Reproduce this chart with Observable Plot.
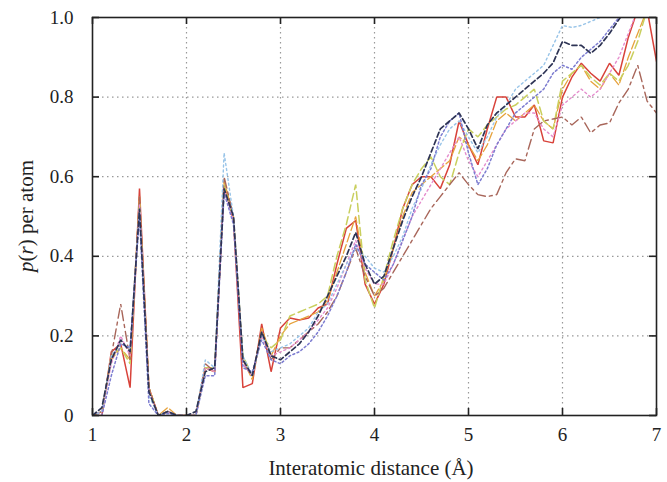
<!DOCTYPE html>
<html><head><meta charset="utf-8">
<script src="https://cdn.jsdelivr.net/npm/d3@7"></script>
<script src="https://cdn.jsdelivr.net/npm/@observablehq/plot@0.6"></script>
<style>body{margin:0;background:#fff;font-family:"Liberation Serif",serif}
#wrap{position:relative;width:667px;height:482px}
#chart{position:absolute;left:0;top:0}
.lab{position:absolute;font-family:"Liberation Serif",serif;font-size:21px;line-height:22px;color:#222;text-align:center;white-space:nowrap}
#xlab{left:89px;width:564px;top:457px}
#ylab{left:-74px;width:200px;top:205px;transform:rotate(-90deg)}
</style>
</head><body><div id="wrap"><div id="chart"></div>
<div id="xlab" class="lab">Interatomic distance (Å)</div>
<div id="ylab" class="lab"><i>p</i>(<i>r</i>) per atom</div></div>
<script>
const distance = [1.0,1.1,1.2,1.3,1.4,1.5,1.6,1.7,1.8,1.9,2.0,2.1,2.2,2.3,2.4,2.5,2.6,2.7,2.8,2.9,3.0,
  3.1,3.2,3.3,3.4,3.5,3.6,3.7,3.8,3.9,4.0,4.1,4.2,4.3,4.4,4.5,4.6,4.7,4.8,4.9,5.0,
  5.1,5.2,5.3,5.4,5.5,5.6,5.7,5.8,5.9,6.0,6.1,6.2,6.3,6.4,6.5,6.6,6.7,6.8,6.9,7.0];

const seriesRed = [0,0,0.16,0.18,0.07,0.57,0.07,0,0.01,0,0,0,0.12,0.11,0.58,0.49,0.07,0.08,0.23,0.11,0.22,
  0.245,0.24,0.245,0.27,0.28,0.38,0.47,0.49,0.33,0.28,0.33,0.42,0.52,0.58,0.60,0.60,0.57,0.63,0.74,0.68,
  0.63,0.72,0.80,0.80,0.75,0.75,0.78,0.69,0.685,0.80,0.85,0.885,0.86,0.84,0.885,0.855,0.95,1.02,1.02,0.89];
const seriesOrange = [0,0.01,0.14,0.17,0.14,0.55,0.07,0,0.02,0,0,0,0.12,0.11,0.59,0.50,0.14,0.09,0.22,0.15,0.20,
  0.23,0.24,0.25,0.26,0.29,0.36,0.43,0.50,0.36,0.30,0.34,0.42,0.50,0.56,0.58,0.60,0.62,0.64,0.70,0.68,
  0.64,0.68,0.74,0.76,0.74,0.76,0.78,0.74,0.72,0.82,0.86,0.88,0.84,0.82,0.86,0.83,0.90,0.96,1.02,1.02];
const seriesYellow = [0,0.01,0.15,0.17,0.13,0.54,0.07,0,0.01,0,0,0,0.12,0.12,0.58,0.49,0.15,0.10,0.20,0.17,0.19,
  0.25,0.26,0.27,0.28,0.30,0.40,0.48,0.58,0.34,0.27,0.35,0.44,0.52,0.58,0.62,0.65,0.60,0.58,0.66,0.72,
  0.70,0.73,0.75,0.77,0.78,0.80,0.82,0.74,0.72,0.84,0.86,0.88,0.85,0.83,0.86,0.84,0.88,0.94,1.02,1.02];
const seriesBrown = [0,0.01,0.15,0.28,0.14,0.55,0.07,0,0.01,0,0,0,0.13,0.11,0.60,0.50,0.13,0.10,0.21,0.14,0.17,
  0.17,0.19,0.21,0.23,0.26,0.30,0.36,0.42,0.35,0.30,0.32,0.36,0.40,0.44,0.48,0.52,0.55,0.58,0.61,0.58,
  0.555,0.55,0.555,0.61,0.645,0.64,0.72,0.74,0.745,0.75,0.73,0.75,0.71,0.73,0.735,0.785,0.82,0.88,0.79,0.76];
const seriesPink = [0,0.01,0.13,0.20,0.15,0.53,0.06,0,0.01,0,0,0,0.12,0.11,0.57,0.49,0.13,0.10,0.20,0.15,0.16,
  0.17,0.19,0.21,0.24,0.27,0.32,0.38,0.44,0.37,0.33,0.33,0.38,0.44,0.50,0.54,0.58,0.62,0.66,0.70,0.64,
  0.60,0.64,0.68,0.72,0.74,0.76,0.76,0.72,0.70,0.78,0.80,0.82,0.80,0.82,0.86,0.90,0.96,1.02,1.02,1.02];
const seriesLightBlue = [0,0.01,0.15,0.18,0.17,0.52,0.05,0,0.01,0,0,0,0.14,0.12,0.66,0.50,0.15,0.10,0.20,0.16,0.17,
  0.18,0.20,0.22,0.26,0.28,0.33,0.38,0.42,0.40,0.37,0.36,0.40,0.45,0.52,0.57,0.63,0.68,0.72,0.74,0.70,
  0.66,0.70,0.75,0.78,0.82,0.84,0.86,0.88,0.93,0.98,0.975,0.98,0.99,1.0,1.02,1.04,1.05,1.05,1.05,1.05];
const seriesPurple = [0,0,0.10,0.18,0.17,0.50,0.03,0,0.005,0,0,0,0.10,0.10,0.56,0.48,0.12,0.11,0.19,0.14,0.13,
  0.15,0.16,0.18,0.21,0.25,0.30,0.36,0.43,0.38,0.36,0.34,0.38,0.44,0.50,0.58,0.62,0.70,0.74,0.76,0.66,
  0.58,0.62,0.68,0.72,0.76,0.78,0.80,0.82,0.86,0.88,0.87,0.90,0.92,0.94,0.97,1.0,1.03,1.05,1.05,1.05];
const seriesNavy = [0,0.02,0.14,0.19,0.16,0.52,0.06,0,0.01,0,0,0.01,0.11,0.12,0.57,0.50,0.14,0.10,0.21,0.15,0.14,
  0.16,0.18,0.21,0.25,0.30,0.35,0.40,0.46,0.38,0.33,0.35,0.42,0.49,0.55,0.60,0.66,0.72,0.74,0.76,0.72,
  0.67,0.73,0.76,0.78,0.80,0.82,0.84,0.86,0.886,0.94,0.93,0.93,0.91,0.93,0.96,0.995,1.03,1.05,1.05,1.05];

const seriesNames = ["red","orange","yellow","brown","pink","lightblue","purple","navy"];
const seriesValues = [seriesRed,seriesOrange,seriesYellow,seriesBrown,seriesPink,seriesLightBlue,seriesPurple,seriesNavy];
const seriesColors = ["#d8423a","#e6a23c","#c9cf5e","#a8665a","#e58ccd","#98c4e8","#7c7cd0","#2e3455"];
const seriesDash = [null,"9,3","8,4","10,4,3,4","2,3","2,3","2,2.5","5,3"];
const seriesWidth = [1.5,1.3,1.5,1.4,1.4,1.4,1.5,1.7];

const xTicks = [1,2,3,4,5,6,7];
const yTicks = [0,0.2,0.4,0.6,0.8,1.0];
const yTickLabels = ["0","0.2","0.4","0.6","0.8","1.0"];

const W = 667, H = 482, mL = 92, mR = 11, mT = 17, mB = 67;
const plotH = H - mT - mB, plotW = W - mL - mR;
const serif = "Liberation Serif";

const lineMarks = seriesNames.map((name, i) => {
  const rows = distance.map((d, j) => ({x: d, y: seriesValues[i][j]}));
  return Plot.line(rows, {x: "x", y: "y", stroke: seriesColors[i], strokeWidth: seriesWidth[i],
    strokeDasharray: seriesDash[i] || undefined, clip: true, strokeLinejoin: "miter"});
});

const svg = Plot.plot({
  width: W, height: H,
  marginLeft: mL, marginRight: mR, marginTop: mT, marginBottom: mB,
  style: {fontFamily: "'Liberation Serif', serif", fontSize: "19px", background: "#fff", color: "#222"},
  x: {domain: [1, 7]},
  y: {domain: [0, 1]},
  marks: [
    Plot.ruleX(xTicks.slice(1, -1), {x: d => d, stroke: "#999", strokeDasharray: "1.5,3.5", strokeWidth: 1.2}),
    Plot.ruleY(yTicks.slice(1, -1), {y: d => d, stroke: "#999", strokeDasharray: "1.5,3.5", strokeWidth: 1.2}),
    ...lineMarks,
    Plot.frame({stroke: "#222", strokeWidth: 1.6}),
    Plot.ruleX(xTicks, {x: d => d, insetTop: plotH - 7, stroke: "#222", strokeWidth: 1.6}),
    Plot.ruleX(xTicks, {x: d => d, insetBottom: plotH - 7, stroke: "#222", strokeWidth: 1.6}),
    Plot.ruleY(yTicks, {y: d => d, insetRight: plotW - 7, stroke: "#222", strokeWidth: 1.6}),
    Plot.ruleY(yTicks, {y: d => d, insetLeft: plotW - 7, stroke: "#222", strokeWidth: 1.6}),
    Plot.axisX(xTicks, {tickSize: 0, tickPadding: 12, label: null, fontSize: 19, fontFamily: serif, fill: "#222"}),
    Plot.axisY(yTicks, {tickSize: 0, tickPadding: 19, label: null, fontSize: 19, fontFamily: serif, fill: "#222",
      tickFormat: d => yTickLabels[yTicks.indexOf(d)]})
  ]
});
d3.select(svg).selectAll("text").attr("font-family", serif);

document.getElementById("chart").appendChild(svg);
</script></body></html>
